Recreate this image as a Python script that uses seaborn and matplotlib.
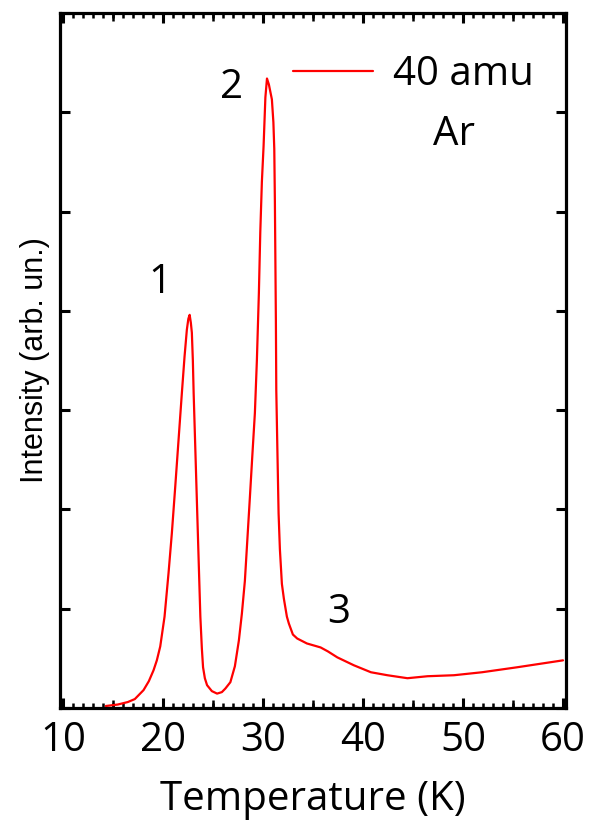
import matplotlib
matplotlib.use("Agg")
import matplotlib.pyplot as plt
import seaborn as sns
import pandas as pd
from matplotlib.ticker import MultipleLocator, NullFormatter

# Data
temperature = [14.3, 15.5, 16.5, 17.2, 18.07, 18.6, 19.07, 19.4, 19.74, 20.17,
               20.57, 20.9, 21.24, 21.57, 21.9, 22.17, 22.4, 22.55, 22.68, 22.8,
               22.9, 23.0, 23.08, 23.3, 23.6, 23.75, 23.9, 24.02, 24.2, 24.42,
               24.9, 25.42, 25.9, 26.25, 26.75, 27.2, 27.6, 27.9, 28.2, 28.45,
               28.7, 28.95, 29.2, 29.4, 29.6, 29.74, 29.9, 30.07, 30.25, 30.41,
               30.6, 30.9, 31.05, 31.14, 31.2, 31.24, 31.3, 31.34, 31.45, 31.57,
               31.7, 31.9, 32.1, 32.4, 32.6, 33.0, 33.43, 34.4, 35.77, 36.5,
               37.44, 39.1, 40.8, 42.45, 44.45, 46.46, 49.1, 51.9, 55.4, 60.0]
intensity = [0.02, 0.035, 0.06, 0.09, 0.18, 0.27, 0.38, 0.48, 0.62, 0.92,
             1.36, 1.76, 2.23, 2.70, 3.17, 3.54, 3.81, 3.92, 3.96, 3.88,
             3.78, 3.50, 3.17, 2.43, 1.42, 0.92, 0.60, 0.41, 0.30, 0.23,
             0.17, 0.145, 0.16, 0.196, 0.26, 0.42, 0.68, 0.95, 1.28, 1.70,
             2.12, 2.55, 2.97, 3.50, 4.18, 4.79, 5.30, 5.66, 6.15, 6.34,
             6.28, 6.13, 5.90, 5.63, 5.10, 4.62, 3.90, 3.20, 2.60, 1.96,
             1.60, 1.25, 1.10, 0.92, 0.85, 0.74, 0.70, 0.65, 0.61, 0.57,
             0.51, 0.43, 0.36, 0.33, 0.30, 0.32, 0.33, 0.36, 0.41, 0.48]
x_ticks = [10, 20, 30, 40, 50, 60]
peak_labels = ["1", "2", "3"]
peak_label_T = [19.7, 26.9, 37.55]
peak_label_I = [4.28, 6.25, 0.96]
series_label = "40 amu"
gas_label = "Ar"

sns.set_theme(style="ticks")
plt.rcParams["font.family"] = ["Open Sans", "DejaVu Sans"]

df = pd.DataFrame({"Temperature": temperature, "Intensity": intensity})

fig = plt.figure(figsize=(5.93, 8.21), dpi=100)
ax = fig.add_axes([60 / 593, (821 - 708) / 821, 506 / 593, (708 - 13) / 821])

sns.lineplot(data=df, x="Temperature", y="Intensity", sort=False, estimator=None,
             color="#ff0000", lw=1.6, ax=ax, label=series_label)

ax.set_xlim(9.72, 60.3)
ax.set_ylim(0, 7.0)
ax.set_xticks(x_ticks)
ax.xaxis.set_minor_locator(MultipleLocator(1))
ax.yaxis.set_major_locator(MultipleLocator(1))
ax.yaxis.set_major_formatter(NullFormatter())

for s in ax.spines.values():
    s.set_linewidth(2.3)
    s.set_color("black")
    s.set_visible(True)

ax.tick_params(axis="both", which="major", direction="in", top=True, right=True,
               length=7.5, width=2.2, color="black")
ax.tick_params(axis="x", which="minor", direction="in", top=True,
               length=3.5, width=1.8, color="black")
ax.tick_params(axis="x", which="major", labelsize=29, pad=9, labelcolor="black")

# medium ticks every 5 K
for loc in ("bottom", "top"):
    sec = ax.secondary_xaxis(loc)
    sec.set_xticks([15, 25, 35, 45, 55])
    sec.tick_params(direction="in", length=5.5, width=1.8, color="black",
                    labelbottom=False, labeltop=False)
    sec.spines[loc].set_visible(False)
    sec.xaxis.set_minor_locator(MultipleLocator(100))

ax.set_xlabel("Temperature (K)", fontsize=29, labelpad=13, color="black")
ax.set_ylabel("Intensity (arb. un.)", fontsize=22, labelpad=4,
              family=["Liberation Sans"], color="black")

for lab, t, i in zip(peak_labels, peak_label_T, peak_label_I):
    ax.text(t, i, lab, fontsize=29, ha="center", va="center", color="black")

leg = ax.legend(loc="upper left", bbox_to_anchor=(0.46, 0.94), frameon=False,
                fontsize=29, handlelength=2.0, handletextpad=0.5, borderpad=0,
                borderaxespad=0)
for t in leg.get_texts():
    t.set_color("black")
ax.text(0.778, 0.825, gas_label, transform=ax.transAxes, fontsize=29,
        ha="center", va="center", color="black")

fig.savefig("out.png", dpi=100)
